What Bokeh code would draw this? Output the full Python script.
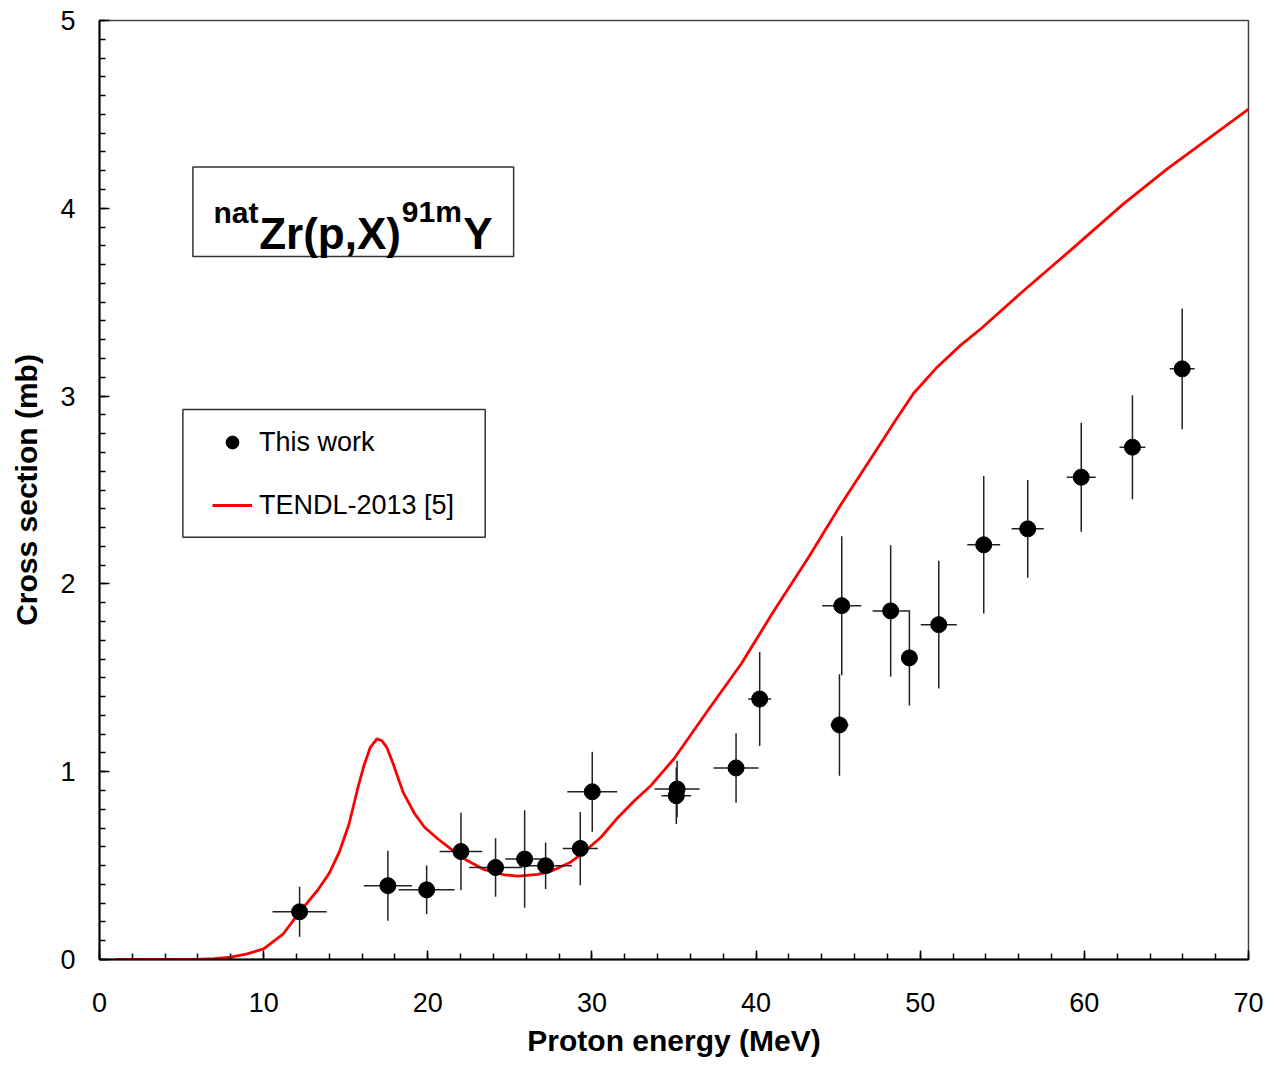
from bokeh.plotting import figure
from bokeh.models import (Range1d, SingleIntervalTicker, Legend, LegendItem,
                          BoxAnnotation, Label, ColumnDataSource)
from bokeh.embed import file_html
from bokeh.resources import INLINE

# ---- Data: this work (natZr(p,X)91mY) ----
energy = [12.19, 17.57, 19.93, 22.02, 24.13, 25.90, 27.18, 29.29, 30.02,
          35.14, 35.19, 38.78, 40.22, 45.08, 45.22, 48.20, 49.34, 51.13,
          53.87, 56.55, 59.81, 62.93, 65.96]
energy_err = [1.65, 1.47, 1.70, 1.30, 1.60, 1.18, 1.60, 1.07, 1.52,
              0.90, 1.37, 1.37, 0.70, 0.55, 1.19, 1.10, 0.40, 1.10,
              1.00, 0.98, 0.88, 0.79, 0.76]
xsec = [0.254, 0.393, 0.371, 0.575, 0.490, 0.535, 0.499, 0.591, 0.893,
        0.872, 0.908, 1.020, 1.387, 1.249, 1.884, 1.856, 1.606, 1.783,
        2.208, 2.293, 2.568, 2.728, 3.145]
xsec_err = [0.133, 0.186, 0.130, 0.206, 0.156, 0.260, 0.124, 0.195, 0.213,
            0.150, 0.150, 0.185, 0.250, 0.270, 0.370, 0.350, 0.254, 0.340,
            0.366, 0.260, 0.290, 0.277, 0.322]

# ---- Data: TENDL-2013 curve ----
tendl_energy = [1, 2, 3, 4, 5, 6, 7, 8, 9, 10, 11.2, 12.26, 13.3, 14.0, 14.6,
                15.2, 15.7, 16.1, 16.5, 16.9, 17.2, 17.5, 17.9, 18.5, 19.2,
                19.8, 20.6, 21.4, 22.4, 23.45, 24.67, 25.5, 26.7, 27.5, 28.7,
                29.5, 30.55, 31.6, 32.6, 33.6, 35.0, 37.06, 39.1, 41.1, 43.2,
                45.15, 47.38, 48.6, 49.6, 51.03, 52.45, 53.77, 56.1, 59.15,
                62.4, 65.05, 70.0]
tendl_xsec = [0, 0, 0, 0, 0, 0.0, 0.005, 0.013, 0.03, 0.057, 0.137, 0.26,
              0.37, 0.46, 0.57, 0.72, 0.90, 1.03, 1.13, 1.175, 1.165, 1.13,
              1.04, 0.89, 0.776, 0.704, 0.643, 0.589, 0.527, 0.478, 0.451,
              0.444, 0.453, 0.47, 0.518, 0.571, 0.651, 0.758, 0.847, 0.927,
              1.069, 1.326, 1.575, 1.858, 2.142, 2.42, 2.72, 2.885, 3.015,
              3.154, 3.27, 3.364, 3.546, 3.776, 4.025, 4.21, 4.528]

x_ticks_interval = 10
y_ticks_interval = 1

FONT = "Liberation Sans"

src = ColumnDataSource(dict(
    e=energy, s=xsec,
    e_lo=[e - d for e, d in zip(energy, energy_err)],
    e_hi=[e + d for e, d in zip(energy, energy_err)],
    s_lo=[s - d for s, d in zip(xsec, xsec_err)],
    s_hi=[s + d for s, d in zip(xsec, xsec_err)],
))

p = figure(width=1274, height=1064, output_backend="svg", toolbar_location=None,
           x_range=Range1d(0, 70), y_range=Range1d(0, 5),
           min_border_left=99, min_border_right=26, min_border_top=20,
           min_border_bottom=105)

p.grid.visible = False
p.outline_line_color = "#444444"
p.outline_line_width = 1.5
p.background_fill_color = "white"
p.border_fill_color = "white"

p.xaxis.ticker = SingleIntervalTicker(interval=x_ticks_interval, num_minor_ticks=5)
p.yaxis.ticker = SingleIntervalTicker(interval=y_ticks_interval, num_minor_ticks=10)

p.xaxis.axis_label = "Proton energy (MeV)"
p.yaxis.axis_label = "Cross section (mb)"

for ax in (p.xaxis, p.yaxis):
    ax.axis_line_color = "black"
    ax.axis_line_width = 2
    ax.major_tick_line_color = "black"
    ax.minor_tick_line_color = "black"
    ax.major_tick_line_width = 1.5
    ax.minor_tick_line_width = 1.5
    ax.major_tick_out = 0
    ax.minor_tick_out = 0
    ax.minor_tick_in = 6
    ax.major_label_text_font = FONT
    ax.major_label_text_font_size = "27px"
    ax.major_label_text_color = "black"
    ax.axis_label_text_font = FONT
    ax.axis_label_text_font_size = "30px"
    ax.axis_label_text_font_style = "bold"
    ax.axis_label_text_color = "black"

p.xaxis.major_tick_in = 9
p.yaxis.major_tick_in = 10
p.xaxis.major_label_standoff = 33
p.yaxis.major_label_standoff = 24
p.xaxis.axis_label_standoff = 9
p.yaxis.axis_label_standoff = 14

# TENDL curve
curve = p.line(tendl_energy, tendl_xsec, line_color="#ff0000", line_width=2.8)

# Error bars
p.segment(x0="e_lo", y0="s", x1="e_hi", y1="s", source=src,
          line_color="#222222", line_width=1.5)
p.segment(x0="e", y0="s_lo", x1="e", y1="s_hi", source=src,
          line_color="#222222", line_width=1.5)

# Points
pts = p.scatter(x="e", y="s", source=src, size=16, marker="circle",
                fill_color="black", line_color="black")

# Legend (box drawn separately)
legend = Legend(items=[LegendItem(label="This work", renderers=[pts]),
                       LegendItem(label="TENDL-2013 [5]", renderers=[curve])],
                location=(84, 409), margin=0, padding=29, spacing=31,
                glyph_width=40, glyph_height=32, label_height=32,
                label_standoff=7, label_text_font=FONT,
                label_text_font_size="27px", label_text_color="black",
                border_line_alpha=0, background_fill_alpha=0)
p.add_layout(legend)

p.add_layout(BoxAnnotation(left=5.08, right=23.50, top=2.929, bottom=2.248,
                           fill_color=None, fill_alpha=0,
                           line_color="#333333", line_alpha=1.0, line_width=1.5))

# Title box and text
p.add_layout(BoxAnnotation(left=5.69, right=25.23, top=4.2195, bottom=3.744,
                           fill_color=None, fill_alpha=0,
                           line_color="#333333", line_alpha=1.0, line_width=1.5))

title_parts = [
    ("nat", 6.947, 3.980, "30px"),
    ("Zr(p,X)", 9.73, 3.865, "44px"),
    ("91m", 18.42, 3.983, "30px"),
    ("Y", 22.16, 3.865, "44px"),
]
for txt, tx, ty, fs in title_parts:
    p.add_layout(Label(x=tx, y=ty, text=txt, text_font=FONT,
                       text_font_size=fs, text_font_style="bold",
                       text_color="black", text_baseline="alphabetic",
                       text_align="left"))

open("out.html", "w").write(file_html(p, INLINE))
